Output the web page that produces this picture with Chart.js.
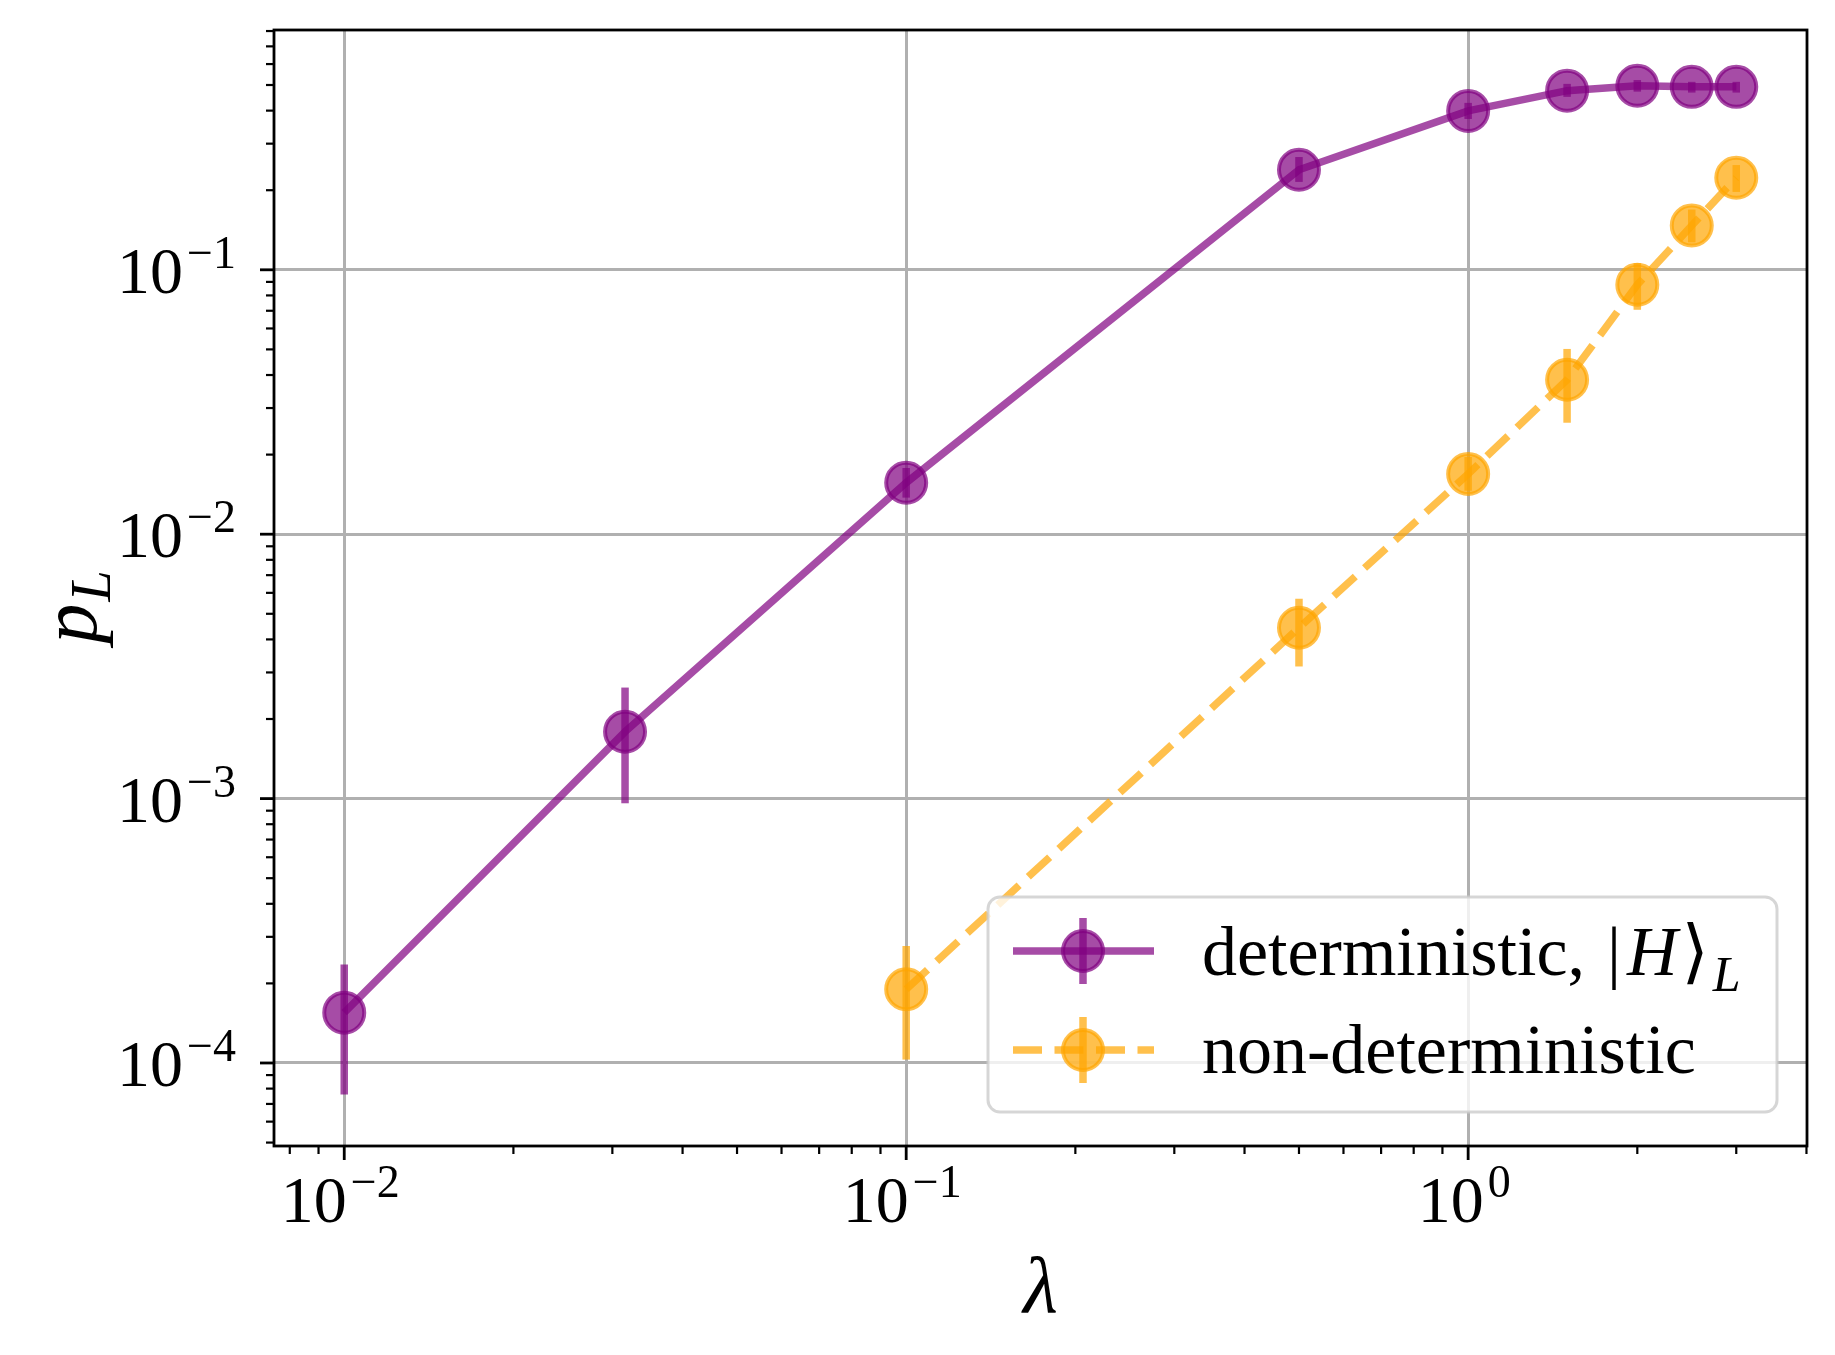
<!DOCTYPE html>
<html>
<head>
<meta charset="utf-8">
<script src="https://cdn.jsdelivr.net/npm/chart.js@4.4.0/dist/chart.umd.min.js"></script>
<style>
  html, body { margin: 0; padding: 0; background: #fff; }
  canvas { display: block; }
</style>
</head>
<body>
<canvas id="plChart" width="1835" height="1355"></canvas>
<script>
// deterministic, |H>_L
var lambdaDet = [0.01, 0.0316, 0.1, 0.5, 1, 1.5, 2, 2.5, 3];
var pDet      = [1.55e-4, 1.79e-3, 1.566e-2, 0.239, 0.399, 0.476, 0.497, 0.492, 0.492];
var pDetLow   = [7.6e-5, 9.6e-4, 1.375e-2, 0.215, 0.372, 0.451, 0.472, 0.468, 0.468];
var pDetHigh  = [2.36e-4, 2.63e-3, 1.78e-2, 0.267, 0.428, 0.505, 0.522, 0.514, 0.514];

// non-deterministic
var lambdaNon = [0.1, 0.5, 1, 1.5, 2, 2.5, 3];
var pNon      = [1.9e-4, 4.43e-3, 1.69e-2, 3.84e-2, 8.78e-2, 0.147, 0.223];
var pNonLow   = [1.03e-4, 3.16e-3, 1.46e-2, 2.64e-2, 7.06e-2, 0.127, 0.197];
var pNonHigh  = [2.77e-4, 5.7e-3, 1.96e-2, 5.02e-2, 0.106, 0.169, 0.249];

// tick labels (10^exp)
var xMajorTicks = [1e-2, 1e-1, 1];
var xTickExp    = ['\u22122', '\u22121', '0'];
var yMajorTicks = [1e-4, 1e-3, 1e-2, 1e-1];
var yTickExp    = ['\u22124', '\u22123', '\u22122', '\u22121'];

var SERIF = '"Liberation Serif", "DejaVu Serif", serif';
var PURPLE = 'rgba(128, 0, 128, 0.7)';
var ORANGE = 'rgba(255, 165, 0, 0.7)';
var LW = 7.5;

function points(xs, ys) {
  return xs.map(function(x, i) { return { x: x, y: ys[i] }; });
}

function minorValues(scale) {
  var out = [];
  var lo = Math.floor(Math.log10(scale.min)), hi = Math.ceil(Math.log10(scale.max));
  for (var e = lo; e <= hi; e++) {
    for (var m = 2; m <= 9; m++) {
      var v = m * Math.pow(10, e);
      if (v >= scale.min && v <= scale.max) out.push(v);
    }
  }
  return out;
}

// "10" with a raised exponent
function drawPower(ctx, exp, x, baseline, align) {
  ctx.font = '66px ' + SERIF;
  var wBase = ctx.measureText('10').width;
  ctx.font = '46px ' + SERIF;
  var wExp = ctx.measureText(exp).width;
  var total = wBase + 4 + wExp;
  var start = align === 'right' ? x - total : x - total / 2;
  ctx.textAlign = 'left';
  ctx.textBaseline = 'alphabetic';
  ctx.fillStyle = '#000';
  ctx.font = '66px ' + SERIF;
  ctx.fillText('10', start, baseline);
  ctx.font = '46px ' + SERIF;
  ctx.fillText(exp, start + wBase + 4, baseline - 25);
}

function roundedRect(ctx, x, y, w, h, r) {
  ctx.beginPath();
  ctx.moveTo(x + r, y);
  ctx.arcTo(x + w, y, x + w, y + h, r);
  ctx.arcTo(x + w, y + h, x, y + h, r);
  ctx.arcTo(x, y + h, x, y, r);
  ctx.arcTo(x, y, x + w, y, r);
  ctx.closePath();
}

// Error bars, drawn just under the lines and markers
var errorBars = {
  id: 'errorBars',
  beforeDatasetsDraw: function(chart) {
    var ctx = chart.ctx, xs = chart.scales.x, ys = chart.scales.y, a = chart.chartArea;
    ctx.save();
    ctx.beginPath();
    ctx.rect(a.left, a.top, a.right - a.left, a.bottom - a.top);
    ctx.clip();
    ctx.lineWidth = LW;
    chart.data.datasets.forEach(function(ds) {
      ctx.strokeStyle = ds.borderColor;
      ds.data.forEach(function(p, i) {
        var px = xs.getPixelForValue(p.x);
        ctx.beginPath();
        ctx.moveTo(px, ys.getPixelForValue(ds.errLow[i]));
        ctx.lineTo(px, ys.getPixelForValue(ds.errHigh[i]));
        ctx.stroke();
      });
    });
    ctx.restore();
  }
};

// Spines, ticks, tick labels, axis titles, legend
var axesDecor = {
  id: 'axesDecor',
  afterDraw: function(chart) {
    var ctx = chart.ctx, xs = chart.scales.x, ys = chart.scales.y, a = chart.chartArea;
    ctx.save();

    // spines
    ctx.strokeStyle = '#000';
    ctx.lineWidth = 2.8;
    ctx.strokeRect(a.left, a.top, a.right - a.left, a.bottom - a.top);

    // minor ticks
    ctx.lineWidth = 2.2;
    minorValues(xs).forEach(function(v) {
      var px = xs.getPixelForValue(v);
      ctx.beginPath(); ctx.moveTo(px, a.bottom); ctx.lineTo(px, a.bottom + 8); ctx.stroke();
    });
    minorValues(ys).forEach(function(v) {
      var py = ys.getPixelForValue(v);
      ctx.beginPath(); ctx.moveTo(a.left, py); ctx.lineTo(a.left - 8, py); ctx.stroke();
    });

    // major ticks + labels
    ctx.lineWidth = 2.8;
    xMajorTicks.forEach(function(v, i) {
      var px = xs.getPixelForValue(v);
      ctx.beginPath(); ctx.moveTo(px, a.bottom); ctx.lineTo(px, a.bottom + 14); ctx.stroke();
      drawPower(ctx, xTickExp[i], px - 4, a.bottom + 76, 'center');
    });
    yMajorTicks.forEach(function(v, i) {
      var py = ys.getPixelForValue(v);
      ctx.beginPath(); ctx.moveTo(a.left, py); ctx.lineTo(a.left - 14, py); ctx.stroke();
      drawPower(ctx, yTickExp[i], a.left - 38, py + 23, 'right');
    });

    // axis titles
    ctx.fillStyle = '#000';
    ctx.textBaseline = 'alphabetic';
    ctx.textAlign = 'center';
    ctx.font = 'italic 80px ' + SERIF;
    ctx.fillText('\u03bb', (a.left + a.right) / 2, 1312);

    ctx.save();
    ctx.translate(96, 607);
    ctx.rotate(-Math.PI / 2);
    ctx.textAlign = 'left';
    ctx.font = 'italic 80px ' + SERIF;
    var wp = ctx.measureText('p').width;
    ctx.font = 'italic 56px ' + SERIF;
    var wl = ctx.measureText('L').width;
    var sx = -(wp + 2 + wl) / 2;
    ctx.font = 'italic 80px ' + SERIF;
    ctx.fillText('p', sx, 0);
    ctx.font = 'italic 56px ' + SERIF;
    ctx.fillText('L', sx + wp + 2, 14);
    ctx.restore();

    // legend
    var lx = 988, ly = 897, lw = 789, lh = 215;
    roundedRect(ctx, lx, ly, lw, lh, 12);
    ctx.fillStyle = 'rgba(255, 255, 255, 0.8)';
    ctx.fill();
    ctx.strokeStyle = 'rgba(204, 204, 204, 0.8)';
    ctx.lineWidth = 3;
    ctx.stroke();

    var rows = [
      { color: PURPLE, dash: [], y: 951, base: 975 },
      { color: ORANGE, dash: [29, 12.5], y: 1050, base: 1073 }
    ];
    rows.forEach(function(r) {
      ctx.strokeStyle = r.color;
      ctx.lineWidth = LW;
      ctx.setLineDash(r.dash);
      ctx.beginPath(); ctx.moveTo(1013, r.y); ctx.lineTo(1154, r.y); ctx.stroke();
      ctx.setLineDash([]);
      ctx.beginPath(); ctx.moveTo(1083, r.y - 33); ctx.lineTo(1083, r.y + 33); ctx.stroke();
      ctx.beginPath(); ctx.arc(1083, r.y, 20, 0, Math.PI * 2);
      ctx.fillStyle = r.color; ctx.fill();
      ctx.lineWidth = 4; ctx.stroke();
    });

    ctx.fillStyle = '#000';
    ctx.textAlign = 'left';
    var tx = 1202;
    ctx.font = '70px ' + SERIF;
    ctx.fillText('deterministic,', tx, rows[0].base);
    tx += ctx.measureText('deterministic,').width + 22;
    ctx.fillText('|', tx, rows[0].base);
    tx += ctx.measureText('|').width + 6;
    ctx.font = 'italic 70px ' + SERIF;
    ctx.fillText('H', tx, rows[0].base);
    tx += ctx.measureText('H').width + 4;
    ctx.font = '70px ' + SERIF;
    ctx.fillText('\u27e9', tx, rows[0].base);
    tx += ctx.measureText('\u27e9').width + 4;
    ctx.font = 'italic 50px ' + SERIF;
    ctx.fillText('L', tx, rows[0].base + 16);
    ctx.font = '70px ' + SERIF;
    ctx.fillText('non-deterministic', 1202, rows[1].base);

    ctx.restore();
  }
};

var ctx1 = document.getElementById('plChart').getContext('2d');
var plChart = new Chart(ctx1, {
  type: 'line',
  data: {
    datasets: [{
      label: 'deterministic',
      data: points(lambdaDet, pDet),
      errLow: pDetLow,
      errHigh: pDetHigh,
      borderColor: PURPLE,
      backgroundColor: PURPLE,
      borderWidth: LW,
      pointRadius: 20,
      pointBorderWidth: 4,
      pointBackgroundColor: PURPLE,
      pointBorderColor: PURPLE,
      tension: 0,
      order: 1
    }, {
      label: 'non-deterministic',
      data: points(lambdaNon, pNon),
      errLow: pNonLow,
      errHigh: pNonHigh,
      borderColor: ORANGE,
      backgroundColor: ORANGE,
      borderWidth: LW,
      borderDash: [29, 12.5],
      pointRadius: 20,
      pointBorderWidth: 4,
      pointBackgroundColor: ORANGE,
      pointBorderColor: ORANGE,
      tension: 0,
      order: 0
    }]
  },
  options: {
    responsive: false,
    animation: false,
    devicePixelRatio: 1,
    layout: { padding: { left: 0, top: 30, right: 28, bottom: 0 } },
    plugins: {
      legend: { display: false },
      tooltip: { enabled: false }
    },
    scales: {
      x: {
        type: 'logarithmic',
        min: Math.pow(10, -2.125),
        max: Math.pow(10, 0.603),
        afterBuildTicks: function(s) { s.ticks = xMajorTicks.map(function(v) { return { value: v }; }); },
        afterFit: function(s) { s.height = 209; },
        ticks: { display: false },
        border: { display: false },
        grid: { color: '#b0b0b0', lineWidth: 3, drawTicks: false }
      },
      y: {
        type: 'logarithmic',
        min: Math.pow(10, -4.314),
        max: Math.pow(10, -0.093),
        afterBuildTicks: function(s) { s.ticks = yMajorTicks.map(function(v) { return { value: v }; }); },
        afterFit: function(s) { s.width = 274; },
        ticks: { display: false },
        border: { display: false },
        grid: { color: '#b0b0b0', lineWidth: 3, drawTicks: false }
      }
    }
  },
  plugins: [errorBars, axesDecor]
});
</script>
</body>
</html>
